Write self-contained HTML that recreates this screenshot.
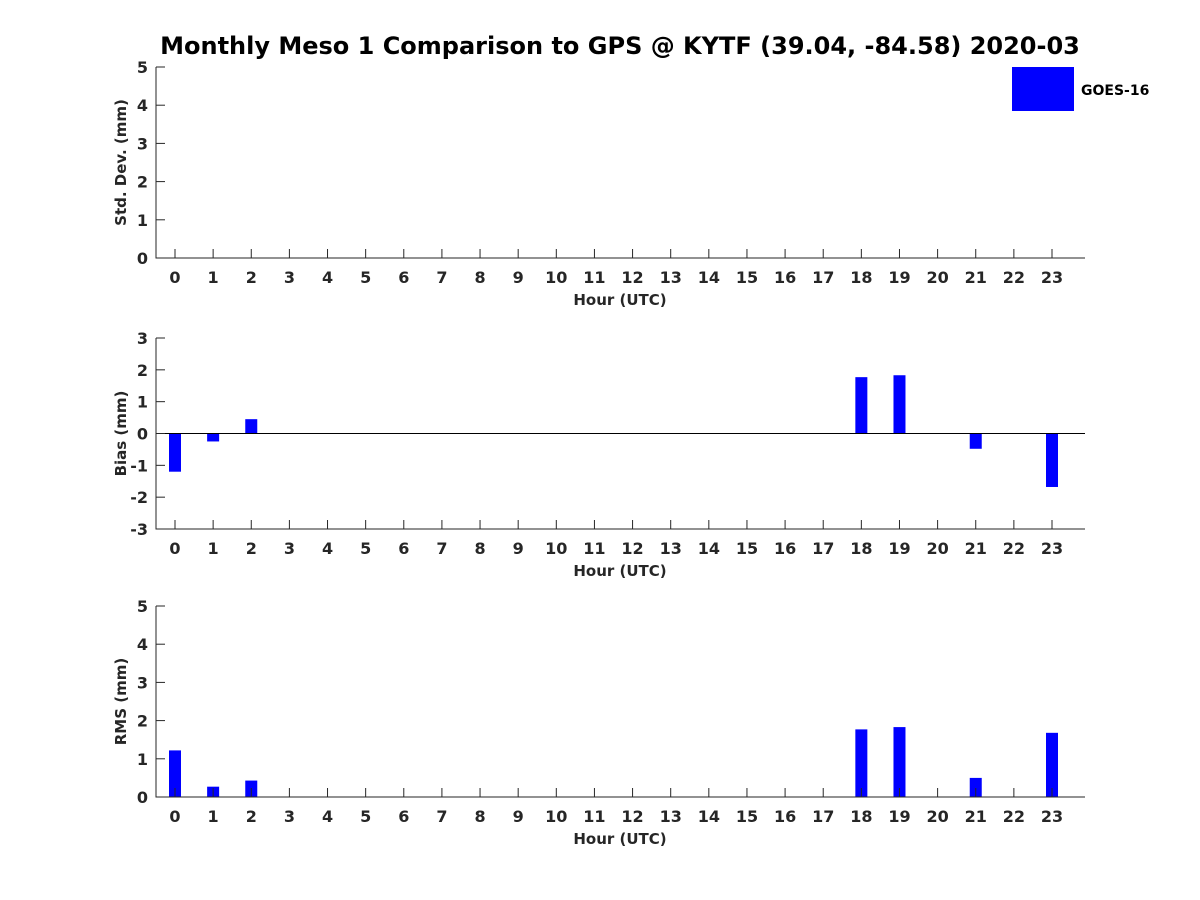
<!DOCTYPE html>
<html><head><meta charset="utf-8"><style>
body{margin:0;background:#fff}
svg{display:block;font-family:"DejaVu Sans","Liberation Sans",sans-serif;font-weight:bold}
</style></head><body>
<svg id="c" width="1200" height="900"></svg>
<script>
const hours=[0,1,2,3,4,5,6,7,8,9,10,11,12,13,14,15,16,17,18,19,20,21,22,23];
const stdHours=[];
const stdValues=[];
const biasHours=[0,1,2,18,19,21,23];
const biasValues=[-1.2,-0.25,0.45,1.77,1.83,-0.48,-1.68];
const rmsHours=[0,1,2,18,19,21,23];
const rmsValues=[1.22,0.27,0.43,1.77,1.83,0.5,1.68];
const stdTicks=[0,1,2,3,4,5];
const biasTicks=[-3,-2,-1,0,1,2,3];
const rmsTicks=[0,1,2,3,4,5];

const NS="http://www.w3.org/2000/svg";
const svg=document.getElementById('c');
function mk(t,a,p){const e=document.createElementNS(NS,t);for(const k in a)e.setAttribute(k,a[k]);(p||svg).appendChild(e);return e;}
const X0=156,X1=1085;
function xs(h){return 175+h*(877/23);}

function panel(name,top,bottom,ymin,ymax,ticks,ylabel,hs,vs){
  const g=mk('g',{});
  
  
  const ys=v=>bottom-(v-ymin)/(ymax-ymin)*(bottom-top);
  // bars
  hs.forEach((h,i)=>{
    const y0=ys(Math.max(0,ymin)),y1=ys(vs[i]);
    const r=mk('rect',{x:xs(h)-6,y:Math.min(y0,y1),width:12,height:Math.abs(y1-y0),fill:'#0000ff'},g);
    
    
  });
  if(ymin<0){const z=mk('line',{x1:X0,x2:X1,y1:ys(0),y2:ys(0),stroke:'#000','stroke-width':1},g);
    }
  const ax=mk('path',{d:`M${X0} ${top}V${bottom}H${X1}`,fill:'none',stroke:'#262626','stroke-width':1},g);
  
  ticks.forEach(t=>{
    const y=ys(t);
    mk('line',{x1:X0,x2:X0+9,y1:y,y2:y,stroke:'#262626'},g);
    const tx=mk('text',{x:X0-8,y:y+6,'text-anchor':'end','font-size':16,fill:'#262626'},g);
    tx.textContent=t;
    
    
  });
  hours.forEach(h=>{
    const x=xs(h);
    mk('line',{x1:x,x2:x,y1:bottom,y2:bottom-9,stroke:'#262626'},g);
    const tx=mk('text',{x:x,y:bottom+25,'text-anchor':'middle','font-size':16,fill:'#262626'},g);
    tx.textContent=h;
    
    
  });
  const xl=mk('text',{x:620,y:bottom+47,'text-anchor':'middle','font-size':15,fill:'#262626'},g);
  xl.textContent='Hour (UTC)';
  
  
  const cy=(top+bottom)/2;
  const yl=mk('text',{x:126,y:cy,'text-anchor':'middle','font-size':15,fill:'#262626',transform:`rotate(-90 126 ${cy})`},g);
  yl.textContent=ylabel;
  
  
}
panel('std-dev',67,258,0,5,stdTicks,'Std. Dev. (mm)',stdHours,stdValues);
panel('bias',338,529,-3,3,biasTicks,'Bias (mm)',biasHours,biasValues);
panel('rms',606,797,0,5,rmsTicks,'RMS (mm)',rmsHours,rmsValues);

const title=mk('text',{x:620,y:54,'text-anchor':'middle','font-size':24,fill:'#000'});
title.textContent='Monthly Meso 1 Comparison to GPS @ KYTF (39.04, -84.58) 2020-03';


const lg=mk('rect',{x:1012,y:67,width:62,height:44,fill:'#0000ff'});


const lt=mk('text',{x:1081,y:95,'font-size':14,fill:'#000'});
lt.textContent='GOES-16';


</script>
</body></html>
